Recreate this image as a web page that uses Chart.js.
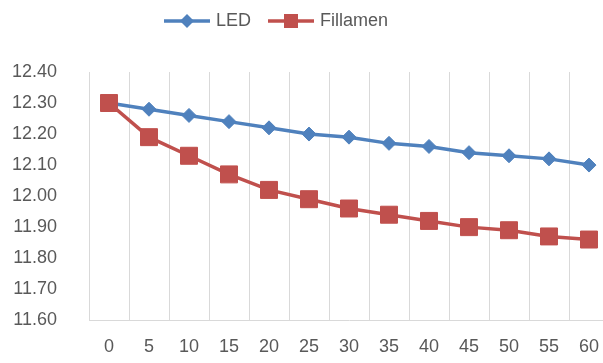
<!DOCTYPE html>
<html>
<head>
<meta charset="utf-8">
<script src="https://cdn.jsdelivr.net/npm/chart.js@4"></script>
<style>
  html, body { margin: 0; padding: 0; background: #fff; overflow: hidden; }
  #wrap { width: 622px; height: 363px; }
</style>
</head>
<body>
<div id="wrap"><canvas id="chart"></canvas></div>
<script>
const labels = ['0', '5', '10', '15', '20', '25', '30', '35', '40', '45', '50', '55', '60']
const ledValues = [12.30, 12.28, 12.26, 12.24, 12.22, 12.20, 12.19, 12.17, 12.16, 12.14, 12.13, 12.12, 12.10]
const fillamenValues = [12.30, 12.19, 12.13, 12.07, 12.02, 11.99, 11.96, 11.94, 11.92, 11.90, 11.89, 11.87, 11.86]

const blue = '#4F81BD'
const red = '#C0504D'
const textColor = '#595959'
const gridColor = '#D9D9D9'

// small line + marker icon, like the Excel legend
function legendIcon (color, shape) {
  const c = document.createElement('canvas')
  c.width = 46
  c.height = 18
  const g = c.getContext('2d')
  g.strokeStyle = color
  g.lineWidth = 3.5
  g.beginPath()
  g.moveTo(0, 9)
  g.lineTo(46, 9)
  g.stroke()
  g.fillStyle = color
  g.beginPath()
  if (shape === 'diamond') {
    g.moveTo(23 - 7, 9)
    g.lineTo(23, 2)
    g.lineTo(23 + 7, 9)
    g.lineTo(23, 16)
    g.closePath()
  } else {
    g.rect(23 - 7, 2, 14, 14)
  }
  g.fill()
  return c
}

const icons = [legendIcon(blue, 'diamond'), legendIcon(red, 'square')]

const legendTweak = {
  id: 'legendTweak',
  beforeInit (chart) {
    const fit = chart.legend.fit
    chart.legend.fit = function () {
      fit.call(this)
      this.height = 72
    }
  },
  afterLayout (chart) {
    chart.legend.left -= 32
    chart.legend.right -= 32
    chart.legend.top -= 8
  }
}

const ctx = document.getElementById('chart').getContext('2d')

const chart = new Chart(ctx, {
  type: 'line',
  data: {
    labels: labels,
    datasets: [{
      label: 'LED',
      data: ledValues,
      borderColor: blue,
      backgroundColor: blue,
      borderWidth: 3.5,
      pointStyle: 'rectRot',
      pointRadius: 7,
      pointBorderWidth: 1,
      order: 1
    }, {
      label: 'Fillamen',
      data: fillamenValues,
      borderColor: red,
      backgroundColor: red,
      borderWidth: 3.5,
      pointStyle: 'rect',
      pointRadius: 12,
      pointBorderWidth: 1,
      order: 0
    }]
  },
  options: {
    responsive: true,
    maintainAspectRatio: false,
    animation: false,
    layout: { padding: { left: 0, right: 3, top: 0, bottom: 0 } },
    plugins: {
      tooltip: { enabled: false },
      legend: {
        position: 'top',
        labels: {
          usePointStyle: true,
          pointStyleWidth: 40,
          padding: 20,
          color: textColor,
          font: { family: 'Liberation Sans, Arial, sans-serif', size: 18 },
          generateLabels (chart) {
            return chart.data.datasets.map((ds, i) => ({
              text: ds.label,
              fillStyle: ds.borderColor,
              strokeStyle: ds.borderColor,
              lineWidth: 0,
              pointStyle: icons[i],
              fontColor: textColor,
              hidden: false,
              datasetIndex: i
            }))
          }
        }
      }
    },
    scales: {
      x: {
        offset: true,
        grid: { offset: true, color: gridColor, lineWidth: 1, drawTicks: false },
        border: { display: true, color: gridColor, width: 1 },
        ticks: {
          color: textColor,
          padding: 16,
          maxRotation: 0,
          autoSkip: false,
          font: { family: 'Liberation Sans, Arial, sans-serif', size: 18 }
        },
        afterFit (scale) { scale.height = 38 }
      },
      y: {
        min: 11.6,
        max: 12.4,
        grid: { drawOnChartArea: false, drawTicks: false },
        border: { display: true, color: gridColor, width: 1 },
        ticks: {
          stepSize: 0.1,
          color: textColor,
          padding: 32,
          font: { family: 'Liberation Sans, Arial, sans-serif', size: 18 },
          callback: (v) => v.toFixed(2)
        },
        afterFit (scale) { scale.width = 89 }
      }
    }
  },
  plugins: [legendTweak]
})
</script>
</body>
</html>
